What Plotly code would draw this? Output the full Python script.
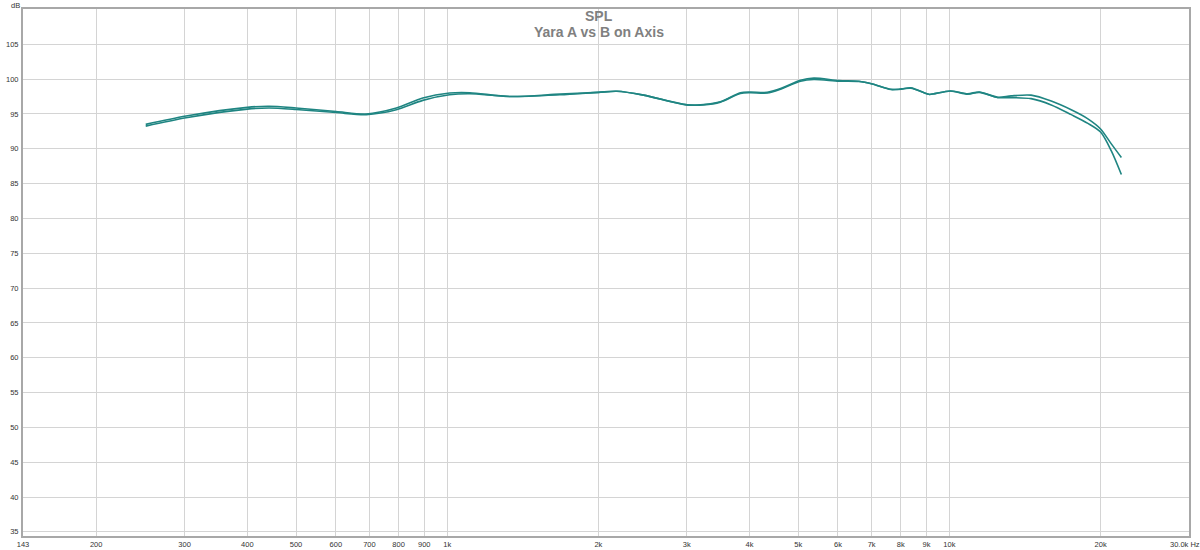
import plotly.graph_objects as go

# frequency response
freq_hz = [251, 302, 400, 442, 500, 601, 690, 792, 894, 1011, 1109, 1333, 1677,
           2000, 2176, 2460, 3002, 3241, 3499, 3835, 4015, 4337, 4610, 5053,
           5372, 6026, 6606, 7025, 7643, 8029, 8380, 9018, 9137, 10040, 10870,
           11470, 12480, 13270, 14540, 15950, 17480, 18870, 20000, 21010, 22000]

spl_a = [93.25, 94.45, 95.7, 95.85, 95.65, 95.2, 94.9, 95.6, 96.95, 97.75, 97.9,
         97.5, 97.75, 98.1, 98.25, 97.7, 96.3, 96.3, 96.7, 97.95, 98.05, 98.0,
         98.55, 99.7, 99.95, 99.7, 99.65, 99.3, 98.55, 98.55, 98.75, 97.9, 97.8,
         98.3, 97.9, 98.15, 97.4, 97.6, 97.7, 96.85, 95.6, 94.3, 92.85, 90.7, 88.75]

spl_b = [93.5, 94.7, 95.95, 96.1, 95.85, 95.35, 95.0, 95.85, 97.3, 98.0, 98.05,
         97.5, 97.85, 98.1, 98.25, 97.7, 96.3, 96.35, 96.75, 98.05, 98.15, 98.1,
         98.65, 99.85, 100.15, 99.8, 99.7, 99.3, 98.5, 98.6, 98.7, 97.9, 97.8,
         98.3, 97.85, 98.1, 97.35, 97.35, 97.2, 96.3, 94.9, 93.65, 92.4, 89.7, 86.3]

x_tickvals = [143, 200, 300, 400, 500, 600, 700, 800, 900, 1000, 2000, 3000,
              4000, 5000, 6000, 7000, 8000, 9000, 10000, 20000]
x_ticktext = ["143", "200", "300", "400", "500", "600", "700", "800", "900", "1k",
              "2k", "3k", "4k", "5k", "6k", "7k", "8k", "9k", "10k", "20k"]
y_tickvals = list(range(35, 110, 5))

line_color = "#1f8582"
tick_font = dict(family="Liberation Sans", size=7.5, color="#333333")

fig = go.Figure()
for name, spl in [("Yara A", spl_a), ("Yara B", spl_b)]:
    fig.add_trace(go.Scatter(
        x=freq_hz, y=spl, name=name, mode="lines",
        line=dict(color=line_color, width=1.6, shape="spline", smoothing=0.8),
    ))

axis_common = dict(
    showgrid=True, gridcolor="#d4d4d4", gridwidth=1,
    showline=True, linecolor="#a8a8a8", linewidth=2, mirror=True,
    zeroline=False, ticks="", tickfont=tick_font, automargin=False,
)

fig.update_xaxes(
    type="log", range=[2.1553, 4.4771],
    tickmode="array", tickvals=x_tickvals, ticktext=x_ticktext,
    **axis_common,
)
fig.update_yaxes(
    range=[34.4, 110.07],
    tickmode="array", tickvals=y_tickvals,
    ticklabelstandoff=1,
    **axis_common,
)

title_font = dict(family="Liberation Sans", size=14, color="#808080")
fig.add_annotation(text="<b>SPL</b>", xref="paper", yref="paper", x=0.494, y=1,
                   yshift=3, showarrow=False, font=title_font, yanchor="top")
fig.add_annotation(text="<b>Yara A vs B on Axis</b>", xref="paper", yref="paper",
                   x=0.494, y=1, yshift=-13, showarrow=False, font=title_font,
                   yanchor="top")
fig.add_annotation(text="dB", xref="paper", yref="paper", x=0, y=1, xshift=-1,
                   yshift=4, showarrow=False, font=tick_font,
                   xanchor="right", yanchor="middle")
fig.add_annotation(text="30.0k Hz", xref="paper", yref="paper", x=1, y=0,
                   xshift=-21, yshift=-2, showarrow=False, font=tick_font,
                   xanchor="left", yanchor="top")

fig.update_layout(
    width=1200, height=550,
    margin=dict(l=23, r=11, t=9, b=14),
    plot_bgcolor="white", paper_bgcolor="white",
    showlegend=False,
)

# drop the page's default body margin so the figure sits at the window corner
fig.write_html("out.html", config={"displayModeBar": False},
               post_script="document.body.style.margin = '0';")
